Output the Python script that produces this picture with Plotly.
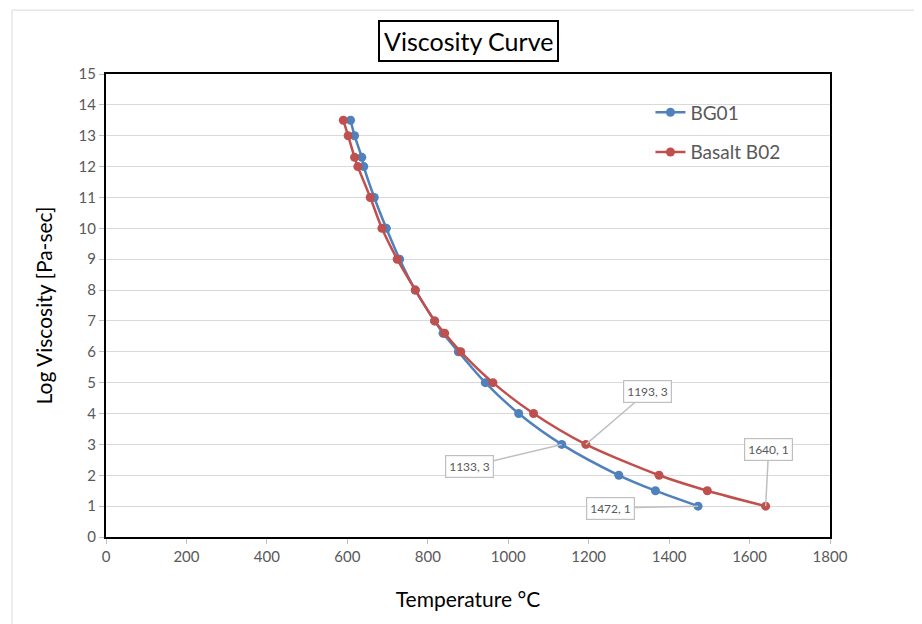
import plotly.graph_objects as go

# Data
log_visc = [13.5, 13, 12.3, 12, 11, 10, 9, 8, 7, 6.6, 6, 5, 4, 3, 2, 1.5, 1]
temp_bg01 = [608, 618, 636, 641, 667, 697, 730, 769, 817, 838, 876, 943, 1026, 1133, 1275, 1366, 1472]
temp_b02 = [590, 602, 618, 626, 657, 686, 724, 769, 817, 842, 882, 962, 1063, 1193, 1375, 1495, 1640]

series_names = ["BG01", "Basalt B02"]
series_colors = ["#4F81BD", "#C0504D"]

callouts = [  # (temperature, log viscosity, label)
    (1193, 3, "1193, 3"),
    (1133, 3, "1133, 3"),
    (1472, 1, "1472, 1"),
    (1640, 1, "1640, 1"),
]
callout_offsets = [(62, -53), (-92, 22), (-88, 2), (3, -57)]

FONT = "Lato"

fig = go.Figure()
for i, (name, temps) in enumerate(zip(series_names, [temp_bg01, temp_b02])):
    fig.add_trace(go.Scatter(
        x=temps, y=log_visc, name=name, mode="lines+markers",
        line=dict(color=series_colors[i], width=2.5, shape="spline", smoothing=0.8),
        marker=dict(color=series_colors[i], size=9),
        legendgroup=name,
    ))

for (tx, ty, lab), (ax, ay) in zip(callouts, callout_offsets):
    fig.add_annotation(
        x=tx, y=ty, xref="x", yref="y", text=lab, showarrow=True,
        arrowhead=0, arrowwidth=1.5, arrowcolor="#BFBFBF", ax=ax, ay=ay,
        font=dict(family=FONT, size=12, color="#595959"),
        bgcolor="white", bordercolor="#BFBFBF", borderwidth=1.2, borderpad=3,
    )

# Title box
fig.add_annotation(
    x=0.5, y=1.071, xref="paper", yref="paper", text="Viscosity Curve",
    showarrow=False, font=dict(family=FONT, size=25, color="black"),
    bordercolor="black", borderwidth=2, borderpad=4, bgcolor="white",
    xanchor="center", yanchor="middle",
)

# Outer light frame of the chart area
fig.add_shape(type="rect", xref="paper", yref="paper",
              x0=-0.1298, x1=1.14, y0=-0.2, y1=1.138,
              line=dict(color="#D9D9D9", width=1), layer="below")

fig.update_layout(
    width=922, height=624,
    margin=dict(l=98, r=100, t=66, b=95),
    paper_bgcolor="white", plot_bgcolor="white",
    font=dict(family=FONT, color="#595959"),
    showlegend=True,
    legend=dict(x=0.752, y=0.958, xanchor="left", yanchor="top",
                font=dict(family=FONT, size=19, color="#595959"),
                bgcolor="rgba(0,0,0,0)", traceorder="grouped", tracegroupgap=12,
                itemwidth=30),
)
fig.update_xaxes(
    range=[0, 1800], tickvals=list(range(0, 1801, 200)),
    showgrid=False, zeroline=False,
    showline=True, linecolor="black", linewidth=2, mirror=True,
    ticks="outside", ticklen=5, tickcolor="#BFBFBF",
    tickfont=dict(family=FONT, size=15, color="#595959"),
    title=dict(text="Temperature °C", font=dict(family=FONT, size=21, color="black"), standoff=28),
)
fig.update_yaxes(
    range=[0, 15], tickvals=list(range(0, 16)),
    showgrid=True, gridcolor="#D9D9D9", gridwidth=1, zeroline=False,
    showline=True, linecolor="black", linewidth=2, mirror=True,
    ticks="outside", ticklen=5, tickcolor="#BFBFBF",
    tickfont=dict(family=FONT, size=15, color="#595959"),
    title=dict(text="Log Viscosity [Pa-sec]", font=dict(family=FONT, size=21, color="black"), standoff=20),
)

fig.write_html("out.html")
